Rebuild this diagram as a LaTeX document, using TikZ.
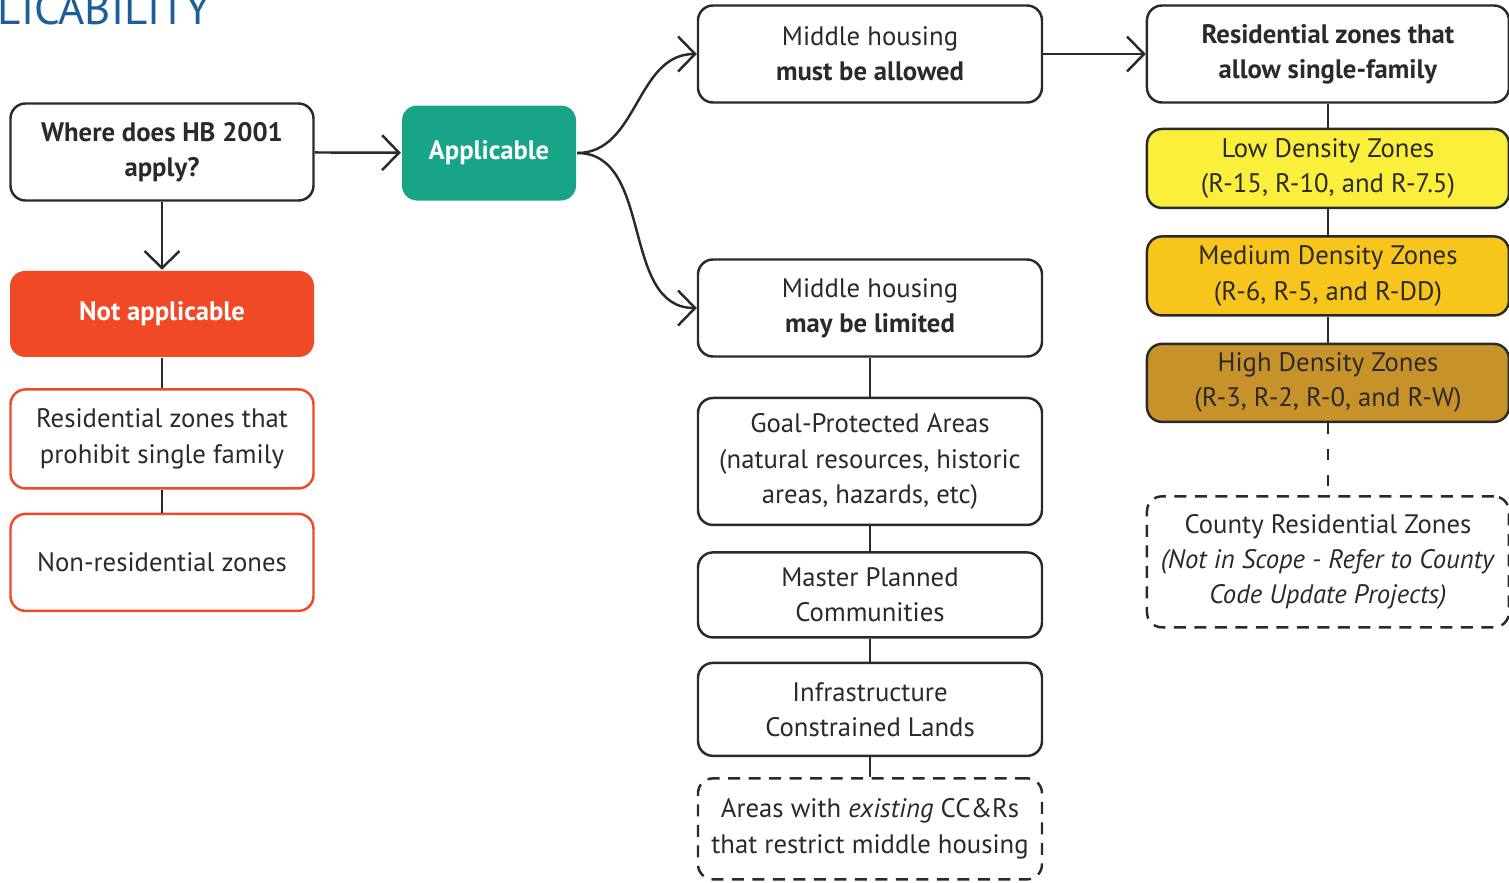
\documentclass[tikz,border=0pt]{standalone}
\usepackage{fontspec}
\setmainfont{PT Sans}
\usetikzlibrary{arrows.meta,positioning}
\definecolor{ink}{HTML}{2A2A2A}
\definecolor{appl}{HTML}{17A487}
\definecolor{nota}{HTML}{EF4A25}
\definecolor{lowz}{HTML}{FBEF3C}
\definecolor{medz}{HTML}{F8C51C}
\definecolor{highz}{HTML}{C8922A}
\definecolor{ttl}{HTML}{1D5E98}
\newcommand{\bx}{\fontsize{15.2}{20}\selectfont}
\tikzset{
  box/.style={draw=ink,line width=1.4pt,rounded corners=0.3cm,fill=white,align=center,inner sep=2pt,text=ink,font=\bx},
  dbox/.style={box,dash pattern=on 0.24cm off 0.17cm},
  obox/.style={box,draw=nota,minimum width=6.06cm},
  fbox/.style={box,draw=none,text=white,font=\bx\bfseries},
  mbox/.style={box,minimum width=6.88cm},
  zbox/.style={box,minimum width=7.24cm,minimum height=1.58cm},
  ln/.style={line width=1.4pt,draw=ink},
  ar/.style={ln,-{Straight Barb[length=3.4mm,width=7mm]}},
}
\begin{document}
\begin{tikzpicture}[node distance=5mm]
  \useasboundingbox (0,0) rectangle (30.18,-17.66);
  \node[anchor=base west,inner sep=0pt,font=\fontsize{25.6}{26}\selectfont,text=ttl] (ttl) at (-0.05,-0.48) {LICABILITY};

  % ---- left: question, applicable / not applicable
  \node[box,minimum width=6.06cm,minimum height=1.94cm,font=\bx\bfseries] (q) at (3.24,-3.04) {Where does HB 2001\\apply?};
  \node[fbox,fill=appl,minimum width=3.48cm,minimum height=1.9cm] (ap) at (9.78,-3.06) {Applicable};
  \node[fbox,fill=nota,minimum width=6.08cm,minimum height=1.72cm,below=1.36cm of q] (na) {Not applicable};
  \node[obox,minimum height=1.98cm,below=0.6cm of na] (rp) {Residential zones that\\prohibit single family};
  \node[obox,minimum height=1.94cm,below=0.46cm of rp] (nr) {Non-residential zones};

  % ---- middle: middle housing
  \node[mbox,minimum height=1.94cm] (must) at (17.4,-1.08) {Middle housing\\\textbf{must be allowed}};
  \node[mbox,minimum height=1.94cm] (may) at (17.4,-6.16) {Middle housing\\\textbf{may be limited}};
  \node[mbox,minimum height=2.54cm,below=0.78cm of may] (goal) {Goal-Protected Areas\\(natural resources, historic\\areas, hazards, etc)};
  \node[mbox,minimum height=1.7cm,below=0.5cm of goal] (mpc) {Master Planned\\Communities};
  \node[mbox,minimum height=1.86cm,below=0.46cm of mpc] (infra) {Infrastructure\\Constrained Lands};
  \node[dbox,minimum width=6.88cm,minimum height=2.02cm,below=0.4cm of infra] (ccr) {Areas with \textit{existing} CC\&Rs\\that restrict middle housing};

  % ---- right: single-family zones
  \node[zbox,minimum height=1.94cm,font=\bx\bfseries,right=2.05cm of must] (rz) {Residential zones that\\allow single-family};
  \node[zbox,fill=lowz,below=0.48cm of rz] (low) {Low Density Zones\\(R-15, R-10, and R-7.5)};
  \node[zbox,fill=medz,below=0.52cm of low] (med) {Medium Density Zones\\(R-6, R-5, and R-DD)};
  \node[zbox,fill=highz,minimum height=1.56cm,below=0.52cm of med] (high) {High Density Zones\\(R-3, R-2, R-0, and R-W)};
  \node[dbox,minimum width=7.24cm,minimum height=2.62cm,below=1.44cm of high] (cty) {County Residential Zones\\\textit{(Not in Scope - Refer to County}\\\textit{Code Update Projects)}};

  % ---- connectors
  \draw[ar] (q) -- (ap);
  \draw[ar] (q) -- (na);
  \draw[ar] (ap.east) to[out=0,in=180] (must.west);
  \draw[ar] (ap.east) to[out=0,in=180] (may.west);
  \draw[ar] (must) -- (rz);
  \foreach \a/\b in {na/rp,rp/nr,may/goal,goal/mpc,mpc/infra,infra/ccr,rz/low,low/med,med/high}
    \draw[ln] (\a) -- (\b);
  \draw[ln,dash pattern=on 0.22cm off 0.3cm] (high) -- (cty);
\end{tikzpicture}
\end{document}
